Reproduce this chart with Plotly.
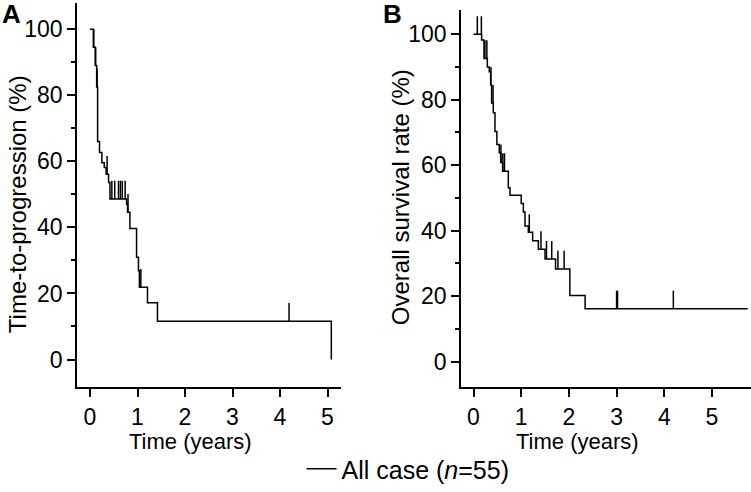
import plotly.graph_objects as go

# ---------------- Data ----------------
# Panel A: time-to-progression, Kaplan-Meier steps
a_time = [0.00, 0.07, 0.11, 0.14, 0.16, 0.20, 0.25, 0.30, 0.34, 0.39, 0.42,
          0.77, 0.79, 0.84, 0.98, 1.02, 1.04, 1.21, 1.42, 5.08]
a_surv = [100, 94.5, 89.0, 82.5, 66.0, 62.7, 59.6, 58.1, 56.1, 53.6, 48.6,
          47.0, 44.6, 39.7, 31.0, 26.9, 21.9, 17.2, 11.6, 0.0]
a_censor = [0.08, 0.12, 0.15, 0.36, 0.46, 0.52, 0.60, 0.64, 0.68, 0.74,
            0.80, 1.07, 4.19]

# Panel B: overall survival, Kaplan-Meier steps
b_time = [0.00, 0.17, 0.22, 0.29, 0.33, 0.36, 0.38, 0.415, 0.45, 0.49, 0.54,
          0.57, 0.61, 0.73, 0.765, 1.00, 1.045, 1.08, 1.15, 1.24, 1.36, 1.50,
          1.72, 2.02, 2.34, 5.75]
b_surv = [100, 98.2, 92.6, 90.0, 88.5, 84.5, 79.0, 76.0, 70.3, 66.3, 63.8,
          60.8, 58.1, 53.1, 50.8, 48.3, 45.7, 41.4, 39.5, 36.9, 34.3, 31.3,
          28.3, 20.2, 16.1, 16.1]
b_censor = [0.08, 0.165, 0.24, 0.28, 0.365, 0.41, 0.575, 0.615, 0.65, 1.17,
            1.415, 1.53, 1.64, 1.77, 1.90, 3.00, 3.02, 4.19]

x_ticks = [0, 1, 2, 3, 4, 5]
y_ticks = [0, 20, 40, 60, 80, 100]
legend_name = "All case (<i>n</i>=55)"
censor_height = 5.5

FONT = "Liberation Sans, Arial, Helvetica, sans-serif"


def level_at(times, surv, t):
    val = surv[0]
    for ti, si in zip(times, surv):
        if ti <= t:
            val = si
    return val


def censor_segments(times, surv, cens):
    xs, ys = [], []
    for t in cens:
        s = level_at(times, surv, t)
        xs += [t, t, None]
        ys += [s, s + censor_height, None]
    return xs, ys


fig = go.Figure()

line_style = dict(color="black", width=1.5)

fig.add_trace(go.Scatter(x=a_time, y=a_surv, mode="lines", line=dict(shape="hv", **line_style),
                         name=legend_name, showlegend=True, xaxis="x", yaxis="y"))
cx, cy = censor_segments(a_time, a_surv, a_censor)
fig.add_trace(go.Scatter(x=cx, y=cy, mode="lines", line=line_style, showlegend=False,
                         xaxis="x", yaxis="y"))

fig.add_trace(go.Scatter(x=b_time, y=b_surv, mode="lines", line=dict(shape="hv", **line_style),
                         showlegend=False, xaxis="x2", yaxis="y2"))
cx, cy = censor_segments(b_time, b_surv, b_censor)
fig.add_trace(go.Scatter(x=cx, y=cy, mode="lines", line=line_style, showlegend=False,
                         xaxis="x2", yaxis="y2"))

W, H = 751, 492


def px_x(p):
    return p / W


def px_y(p):
    return (H - p) / H


axis_common = dict(showline=True, linecolor="black", linewidth=1.5, showgrid=False,
                   zeroline=False, ticks="outside", ticklen=8, tickwidth=1.5,
                   tickcolor="black", tickfont=dict(family=FONT, size=23, color="black"))
minor_y = dict(ticks="outside", ticklen=4, tickwidth=1.5, tickcolor="black", dtick=10, tick0=10)

fig.update_layout(
    width=W, height=H,
    paper_bgcolor="white", plot_bgcolor="white",
    margin=dict(l=0, r=0, t=0, b=0),
    font=dict(family=FONT, color="black"),
    xaxis=dict(domain=[px_x(77), px_x(341)], range=[-0.274, 5.284], anchor="y",
               tickvals=x_ticks, **axis_common),
    yaxis=dict(domain=[px_y(389), px_y(3)], range=[-8.44, 107.93], anchor="x",
               tickvals=y_ticks, minor=minor_y, **axis_common),
    xaxis2=dict(domain=[px_x(461), 1.0], range=[-0.262, 5.818], anchor="y2",
                tickvals=x_ticks, **axis_common),
    yaxis2=dict(domain=[px_y(389), px_y(10)], range=[-7.91, 107.39], anchor="x2",
                tickvals=y_ticks, minor=minor_y, **axis_common),
    showlegend=True,
    legend=dict(orientation="h", x=px_x(408), xanchor="center", y=px_y(471), yanchor="middle",
                font=dict(family=FONT, size=25, color="black"), bgcolor="rgba(0,0,0,0)"),
)

ytitle_font = dict(family=FONT, size=24, color="black")
xtitle_font = dict(family=FONT, size=22, color="black")
common_ann = dict(xref="paper", yref="paper", showarrow=False, xanchor="center", yanchor="middle")
fig.add_annotation(text="<b>A</b>", x=0, y=1, xref="paper", yref="paper", xanchor="left",
                   yanchor="top", yshift=3, showarrow=False, font=dict(family=FONT, size=26, color="black"))
fig.add_annotation(text="<b>B</b>", x=px_x(381), y=1, xref="paper", yref="paper", xanchor="left",
                   yanchor="top", yshift=3, showarrow=False, font=dict(family=FONT, size=26, color="black"))
fig.add_annotation(text="Time-to-progression (%)", x=px_x(17), y=px_y(205), textangle=-90,
                   font=ytitle_font, **common_ann)
fig.add_annotation(text="Overall survival rate (%)", x=px_x(400), y=px_y(198), textangle=-90,
                   font=ytitle_font, **common_ann)
fig.add_annotation(text="Time (years)", x=px_x(190), y=px_y(443), font=xtitle_font, **common_ann)
fig.add_annotation(text="Time (years)", x=px_x(577), y=px_y(443), font=xtitle_font, **common_ann)

fig.write_html("out.html", config={"displayModeBar": False},
               post_script="document.body.style.margin='0';")
